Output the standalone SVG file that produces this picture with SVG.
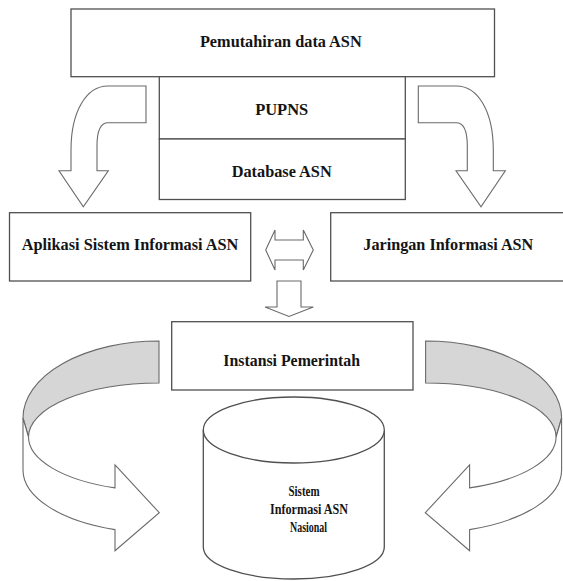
<svg xmlns="http://www.w3.org/2000/svg" width="563" height="581" viewBox="0 0 563 581">
<style>
.box{fill:#fff;stroke:#505050;stroke-width:1.3}
.arr{fill:#fff;stroke:#6a6a6a;stroke-width:1.1;stroke-linejoin:miter}
.gray{fill:#d6d6d6;stroke:#6a6a6a;stroke-width:1.1}
</style>
<rect width="563" height="581" fill="#fff"/>
<g id="connectors">
  <g id="arrow-left-down">
    <path class="arr" d="M146,86 L108,86 C86,86 71,112 71,150 L71,170.7 L59,170.7 L83.3,206.7 L108.3,170.7 L97,170.7 L97,146 C97,132 100,122.7 108,122.7 L146,122.7 Z"/>
  </g>
  <g id="arrow-right-down" transform="translate(564.3,0) scale(-1,1)">
    <path class="arr" d="M146,86 L108,86 C86,86 71,112 71,150 L71,170.7 L59,170.7 L83.3,206.7 L108.3,170.7 L97,170.7 L97,146 C97,132 100,122.7 108,122.7 L146,122.7 Z"/>
  </g>
  <g id="arrow-both">
    <path class="arr" d="M265.7,250 L275,230 L275,240 L303.3,240 L303.3,230 L313.3,250 L303.3,270 L303.3,260 L275,260 L275,270 Z"/>
  </g>
  <g id="arrow-down">
    <path class="arr" d="M277,281 L301,281 L301,307 L313.3,307 L289,316.5 L265,307 L277,307 Z"/>
  </g>
  <g id="swirl-left">
    <path class="gray" d="M159,341 A136,77 0 0 0 23,418 L28.5,437 A130.5,54 0 0 1 159,383 Z"/>
    <path class="arr" d="M23,418 L23,470 A136,63 0 0 0 115,529.6 L115,550.7 L159.3,512.7 L115,465 L115,487.9 A130.5,54 0 0 1 28.5,437 Z"/>
  </g>
  <g id="swirl-right" transform="translate(584.6,0) scale(-1,1)">
    <path class="gray" d="M159,341 A136,77 0 0 0 23,418 L28.5,437 A130.5,54 0 0 1 159,383 Z"/>
    <path class="arr" d="M23,418 L23,470 A136,63 0 0 0 115,529.6 L115,550.7 L159.3,512.7 L115,465 L115,487.9 A130.5,54 0 0 1 28.5,437 Z"/>
  </g>
</g>
<g font-family="Liberation Serif, 'Times New Roman', serif" font-weight="bold" font-size="16.5" fill="#141414" text-anchor="middle">
<g id="pemutahiran">
  <rect class="box" x="71" y="9" width="423.5" height="67.7"/>
  <text x="280.8" y="46.7" textLength="161.7" lengthAdjust="spacingAndGlyphs">Pemutahiran data ASN</text>
</g>
<g id="pupns">
  <rect class="box" x="159.3" y="76.7" width="246" height="62.3"/>
  <text x="281.7" y="115" textLength="53" lengthAdjust="spacingAndGlyphs">PUPNS</text>
</g>
<g id="database">
  <rect class="box" x="159.3" y="139" width="246" height="60.5"/>
  <text x="281.7" y="176.7" textLength="100" lengthAdjust="spacingAndGlyphs">Database ASN</text>
</g>
<g id="aplikasi">
  <rect class="box" x="9.5" y="212.7" width="241.2" height="68.3"/>
  <text x="130" y="250" textLength="216.7" lengthAdjust="spacingAndGlyphs">Aplikasi Sistem Informasi ASN</text>
</g>
<g id="jaringan">
  <rect class="box" x="330.7" y="212.7" width="240" height="68.3"/>
  <text x="448.3" y="250" textLength="170" lengthAdjust="spacingAndGlyphs">Jaringan Informasi ASN</text>
</g>
<g id="instansi">
  <rect class="box" x="171.7" y="321.7" width="241.3" height="68.3"/>
  <text x="291.7" y="366" textLength="136.7" lengthAdjust="spacingAndGlyphs">Instansi Pemerintah</text>
</g>
<g id="sistem-nasional">
  <path class="box" d="M203.3,430 L203.3,547 A90.5,32 0 0 0 384.3,547 L384.3,430"/>
  <ellipse class="box" cx="293.8" cy="430" rx="90.5" ry="33"/>
  <text font-size="15" x="304" y="496" textLength="31" lengthAdjust="spacingAndGlyphs">Sistem</text>
  <text font-size="15" x="309" y="514" textLength="78" lengthAdjust="spacingAndGlyphs">Informasi ASN</text>
  <text font-size="15" x="308.5" y="531.7" textLength="37" lengthAdjust="spacingAndGlyphs">Nasional</text>
</g>
</g>
</svg>
